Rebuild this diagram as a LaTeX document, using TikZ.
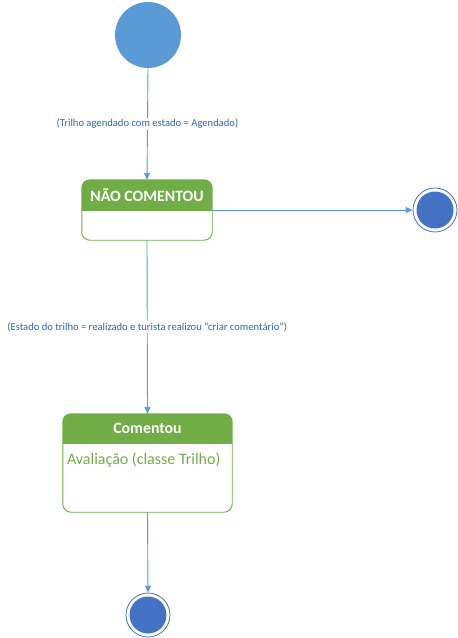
\documentclass[tikz,border=0pt]{standalone}
\usepackage{fontspec}
\setmainfont{Carlito}
\usetikzlibrary{arrows.meta}
\definecolor{lblue}{HTML}{5B9BD5}
\definecolor{dblue}{HTML}{4472C4}
\definecolor{grn}{HTML}{70AD47}
\definecolor{txtblue}{HTML}{2E6AAE}
\begin{document}
\begin{tikzpicture}[x=1pt,y=-1pt,
  conn/.style={draw=lblue, line width=0.9pt, -{Triangle[length=7pt,width=6pt]}},
  lbl/.style={fill=white, text=txtblue, font=\fontsize{10.6}{12}\selectfont, inner sep=1pt},
  statebox/.style={inner sep=0pt},
  border/.style={draw=grn, line width=0.9pt, rounded corners=8pt},
  headtxt/.style={text=white, font=\bfseries\fontsize{15.8}{18}\selectfont},
  finout/.style={circle, draw=dblue, line width=0.8pt, fill=white, minimum size=44pt, inner sep=0pt},
  finin/.style={circle, fill=dblue, minimum size=37pt, inner sep=0pt},
]
\useasboundingbox (0,0) rectangle (458,638);
% initial state
\node[circle, fill=lblue, minimum size=66pt, inner sep=0pt] (init) at (148,35) {};
% state 1
\node[statebox, minimum width=130pt, minimum height=60pt] (s1) at (147,210) {};
\begin{scope}
  \clip[rounded corners=8pt] (s1.north west) rectangle (s1.south east);
  \fill[grn] (s1.north west) rectangle ([yshift=-31pt]s1.north east);
\end{scope}
\draw[border] (s1.north west) rectangle (s1.south east);
\node[headtxt] (h1) at ([yshift=-15pt]s1.north) {NÃO COMENTOU};
% state 2
\node[statebox, minimum width=169pt, minimum height=98pt] (s2) at (147.5,463) {};
\begin{scope}
  \clip[rounded corners=8pt] (s2.north west) rectangle (s2.south east);
  \fill[grn] (s2.north west) rectangle ([yshift=-30pt]s2.north east);
\end{scope}
\draw[border] (s2.north west) rectangle (s2.south east);
\node[headtxt] (h2) at ([yshift=-15pt]s2.north) {Comentou};
\node[text=grn, font=\fontsize{16}{18}\selectfont, anchor=west, inner sep=0pt] (a2) at ([xshift=4pt,yshift=-46pt]s2.north west) {Avaliação (classe Trilho)};
% final states
\node[finout] (f1) at (435,210) {};
\node[finin] (f1i) at (f1) {};
\node[finout] (f2) at (148,615) {};
\node[finin] (f2i) at (f2) {};
% connectors
\draw[conn] (init.south) -- node[lbl] (l1) {(Trilho agendado com estado = Agendado)} (s1.north);
\draw[conn] (s1.east) -- (f1.west);
\draw[conn] (s1.south) -- node[lbl] (l2) {(Estado do trilho = realizado e turista realizou “criar comentário”)} (s2.north);
\draw[conn] (s2.south) -- (f2.north);
\end{tikzpicture}
\end{document}
